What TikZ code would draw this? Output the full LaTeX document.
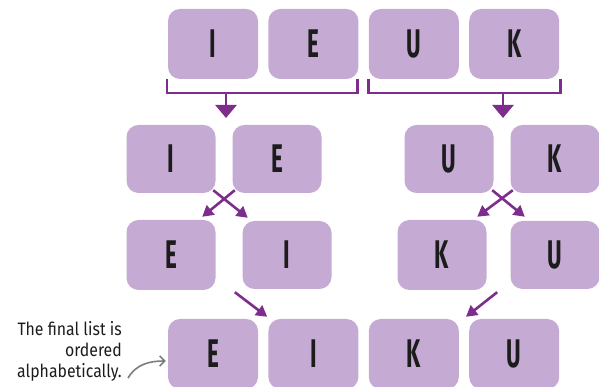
\documentclass[tikz,border=0pt]{standalone}
\usepackage{fontspec}
\newfontfamily\boxfont[FakeStretch=0.56]{Fira Sans}
\newfontfamily\notefont[FakeStretch=0.88]{Fira Sans}
\definecolor{BoxLilac}{RGB}{197, 170, 212}
\definecolor{ArrowPurple}{RGB}{125, 45, 140}
\definecolor{NoteGray}{RGB}{125, 125, 125}
\definecolor{LetterInk}{RGB}{28, 28, 28}
\usepackage{tikz}
\usetikzlibrary{arrows.meta, positioning}

\begin{document}
\begin{tikzpicture}[x=1pt, y=1pt, >=Triangle,
    letterbox/.style={fill=BoxLilac, rounded corners=12pt, minimum width=89pt, minimum height=68pt, inner sep=0pt, text=LetterInk, font=\boxfont\bfseries\fontsize{40}{40}\selectfont},
    toprow/.style={letterbox, minimum width=90pt, minimum height=70pt},
    bracket/.style={draw=ArrowPurple, line width=2.6pt},
    mergearrow/.style={draw=ArrowPurple, line width=2.6pt, -{Triangle[length=13pt, width=21pt]}},
    swaparrow/.style={draw=ArrowPurple, line width=2.6pt, -{Triangle[length=11pt, width=12pt]}}]
    \useasboundingbox (0,0) rectangle (599,387);
    % unsorted list
    \node[toprow] (i0) at (213,343) {I};
    \node[toprow, right=10pt of i0] (e0) {E};
    \node[toprow, right=10pt of e0] (u0) {U};
    \node[toprow, right=10pt of u0] (k0) {K};
    % split into halves
    \draw[bracket] ([xshift=-1pt]i0.south west) -- ++(0,-14) -| ([xshift=-1pt]e0.south east);
    \draw[bracket] (u0.south west) -- ++(0,-14) -| ([xshift=1pt]k0.south east);
    \coordinate (lsplit) at (226,294);
    \coordinate (rsplit) at (503,294);
    \draw[mergearrow] (lsplit) -- ++(0,-25);
    \draw[mergearrow] (rsplit) -- ++(0,-25);
    % pairs
    \node[letterbox] (i2) at (171,228) {I};
    \node[letterbox] (e2) at (277,228) {E};
    \node[letterbox] (u2) at (449,228) {U};
    \node[letterbox] (k2) at (555,228) {K};
    % swapped pairs
    \node[letterbox, minimum height=70pt] (e3) at (171,132) {E};
    \node[letterbox] (i3) at (287,132) {I};
    \node[letterbox, minimum height=70pt] (k3) at (442,132) {K};
    \node[letterbox] (u3) at (555,132) {U};
    \draw[swaparrow] ([shift={(2.5,3)}]e2.south west) -- ([shift={(-13.5,3)}]e3.north east);
    \draw[swaparrow] ([shift={(-2.5,3)}]i2.south east) -- ([shift={(5.5,3)}]i3.north west);
    \draw[swaparrow] ([shift={(2.5,3)}]k2.south west) -- ([shift={(-9.5,3)}]k3.north east);
    \draw[swaparrow] ([shift={(-1.5,3)}]u2.south east) -- ([shift={(14.5,4)}]u3.north west);
    % merged list
    \node[toprow] (e4) at (213,33) {E};
    \node[toprow, right=10pt of e4] (i4) {I};
    \node[toprow, right=10pt of i4] (k4) {K};
    \node[toprow, right=10pt of k4] (u4) {U};
    \draw[swaparrow] ([shift={(-7.5,-3)}]i3.south west) -- ([shift={(-1,2)}]i4.north west);
    \draw[swaparrow] ([shift={(10.5,-2)}]k3.south east) -- ([shift={(-3,2)}]u4.north west);
    % note
    \node[anchor=east, align=right, inner sep=0pt, text=LetterInk, font=\notefont\fontsize{18}{21}\selectfont] (note) at (122,36) {The final list is\\ordered\\alphabetically.};
    \draw[NoteGray, line width=1.6pt, -{Straight Barb[length=5pt, width=10pt]}] ([shift={(6,3)}]note.south east) to[out=60, in=180] ([shift={(-2,-7)}]e4.west);
\end{tikzpicture}
\end{document}
